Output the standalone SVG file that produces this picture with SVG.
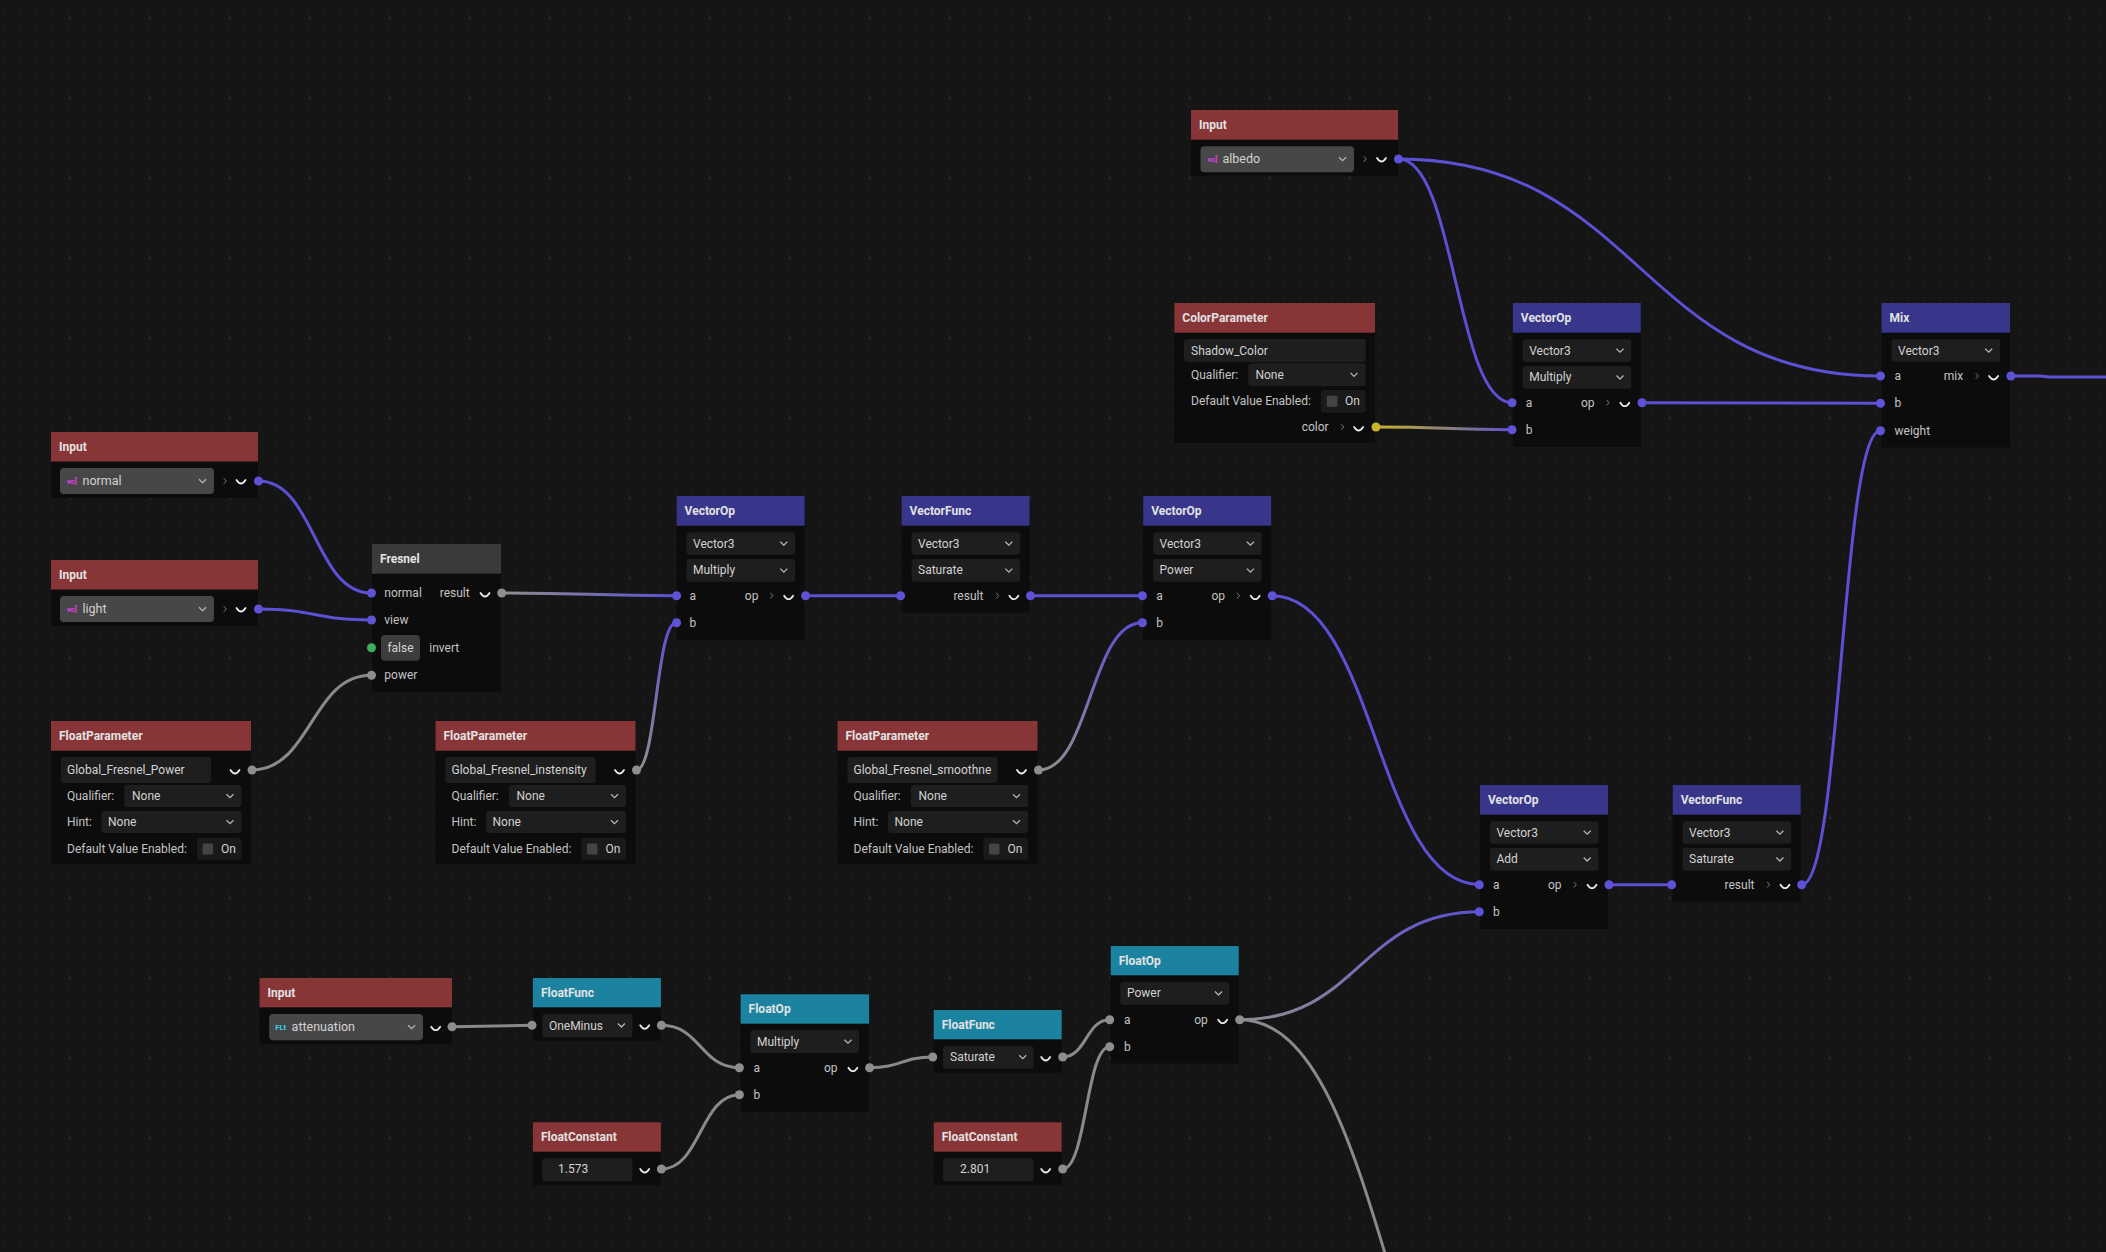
<svg xmlns="http://www.w3.org/2000/svg" xmlns:xlink="http://www.w3.org/1999/xlink" width="2106" height="1252" viewBox="0 0 2106 1252">
<style>
text{font-family:Roboto,"Liberation Sans",sans-serif;font-size:12px;fill:#c4c4c4}
.title{font-weight:700;fill:#e2e2e2}
.dt{fill:#d2d2d2}
.ico{font-size:7.5px;font-weight:700}
.body{fill:#0c0c0c}
.hr{fill:#883537}
.hb{fill:#37368a}
.ht{fill:#1b83a0}
.hg{fill:#3a3a3a}
.dd{fill:#1e1e1e}
.ddi{fill:#474747}
.tg{fill:#1a1a1a}
.ck{fill:#444444}
.pb{fill:#5e53d6}
.pg{fill:#8e8e8e}
.pgr{fill:#3fae5b}
.py{fill:#c9b42c}
.w{fill:none;stroke-width:3;stroke-linecap:round}
.wb{stroke:#5c50d4}
.wg{stroke:#8a8a8a}
</style>
<defs>
<pattern id="dots" patternUnits="userSpaceOnUse" x="-4" y="2" width="16" height="16"><circle cx="8" cy="8" r="1" fill="#1f1f1f"/></pattern>
<pattern id="dots2" patternUnits="userSpaceOnUse" x="30" y="-22" width="80" height="80"><circle cx="40" cy="40" r="1.4" fill="#292929"/></pattern>
<path id="chev" d="M-3.5,-1.8 L0,1.7 L3.5,-1.8" fill="none" stroke="#b5b5b5" stroke-width="1.3"/>
<path id="cup" d="M-4.5,-2 Q0,5 4.5,-2" fill="none" stroke="#e8e8e8" stroke-width="1.8" stroke-linecap="round"/>
<path id="gt" d="M-1.3,-2.8 L1.3,0 L-1.3,2.8" fill="none" stroke="#7a7a7a" stroke-width="1"/>
<linearGradient id="g4" gradientUnits="userSpaceOnUse" x1="501.7" y1="593" x2="676" y2="595.7"><stop offset="0" stop-color="#8e8e8e"/><stop offset="1" stop-color="#5c50d4"/></linearGradient>
<linearGradient id="g5" gradientUnits="userSpaceOnUse" x1="636" y1="770" x2="676" y2="622.7"><stop offset="0" stop-color="#8e8e8e"/><stop offset="1" stop-color="#5c50d4"/></linearGradient>
<linearGradient id="g8" gradientUnits="userSpaceOnUse" x1="1039" y1="770" x2="1142" y2="622.7"><stop offset="0" stop-color="#8e8e8e"/><stop offset="1" stop-color="#5c50d4"/></linearGradient>
<linearGradient id="g10" gradientUnits="userSpaceOnUse" x1="1239.7" y1="1019.7" x2="1480" y2="911.7"><stop offset="0" stop-color="#8e8e8e"/><stop offset="1" stop-color="#5c50d4"/></linearGradient>
<linearGradient id="g16" gradientUnits="userSpaceOnUse" x1="1376" y1="427" x2="1512.5" y2="429.7"><stop offset="0" stop-color="#c9b42c"/><stop offset="0.5" stop-color="#8d8378"/><stop offset="1" stop-color="#5c50d4"/></linearGradient>
</defs>
<rect width="2106" height="1252" fill="#151515"/>
<rect width="2106" height="1252" fill="url(#dots)"/>
<rect width="2106" height="1252" fill="url(#dots2)"/>

<g id="connectors">
<path class="w wb" d="M258.5,481 C314.75,481 314.75,593 371,593"/>
<path class="w wb" d="M258.5,609 C314.75,609 314.75,620 371,620"/>
<path class="w wg" d="M251.5,770 C311.25,770 311.25,675.3 371,675.3"/>
<path class="w" stroke="url(#g4)" d="M501.7,593 C588.8,593 588.8,595.7 676,595.7"/>
<path class="w" stroke="url(#g5)" d="M636.5,770 C656.3,770 656.3,622.7 676,622.7"/>
<path class="w wb" d="M805.6,595.7 L900.4,595.7"/>
<path class="w wb" d="M1030.5,595.7 L1142,595.7"/>
<path class="w" stroke="url(#g8)" d="M1038.5,770 C1090.3,770 1090.3,622.7 1142,622.7"/>
<path class="w wb" d="M1272,595.7 C1376,595.7 1376,884.7 1480,884.7"/>
<path class="w" stroke="url(#g10)" d="M1239.7,1019.7 C1360,1019.7 1360,911.7 1480,911.7"/>
<path class="w wg" d="M1239.7,1019.7 C1390,1019.7 1390,1520 1540,1520"/>
<path class="w wb" d="M1609,884.7 L1671.7,884.7"/>
<path class="w wb" d="M1801.7,884.7 C1841.3,884.7 1841.3,430.7 1880.5,430.7"/>
<path class="w wb" d="M1398.5,159 C1455.5,159 1455.5,402.7 1512,402.7"/>
<path class="w wb" d="M1398.5,159 C1639.5,159 1639.5,376 1880.5,376"/>
<path class="w" stroke="url(#g16)" d="M1376,427 C1444,427 1444,429.7 1512,429.7"/>
<path class="w wb" d="M1642,402.7 L1880.5,403.3"/>
<path class="w wb" d="M2010.9,376 L2040,376 L2050,377 L2110,377"/>
<path class="w wg" d="M452,1026.7 L532,1025.3"/>
<path class="w wg" d="M661.4,1025.3 C700.5,1025.3 700.5,1067.7 739.4,1067.7"/>
<path class="w wg" d="M661.4,1169 C700.5,1169 700.5,1094.7 739.4,1094.7"/>
<path class="w wg" d="M869.6,1067.7 C901.2,1067.7 901.2,1057 932.7,1057"/>
<path class="w wg" d="M1062.7,1057 C1086.2,1057 1086.2,1019.7 1109.7,1019.7"/>
<path class="w wg" d="M1062.7,1169 C1086.2,1169 1086.2,1046.7 1109.7,1046.7"/>
</g>

<g id="input-normal">
<rect class="body" x="51" y="432" width="207" height="66"/>
<rect class="hr" x="51" y="432" width="207" height="29.5"/>
<text class="title" x="59" y="451">Input</text>
<rect class="ddi" x="60" y="468" width="154" height="26" rx="4"/>
<text class="ico" x="67" y="483.5" style="fill:#e23ee6">vc]</text>
<text class="dt" x="82.5" y="485" style="font-size:12.5px">normal</text>
<use href="#chev" x="202.5" y="481"/>
<use href="#gt" x="225" y="481"/>
<use href="#cup" x="241" y="482"/>
<circle class="pb" cx="258.5" cy="481" r="4.5"/>
</g>

<g id="input-light">
<rect class="body" x="51" y="560" width="207" height="66"/>
<rect class="hr" x="51" y="560" width="207" height="29.5"/>
<text class="title" x="59" y="579">Input</text>
<rect class="ddi" x="60" y="596" width="154" height="26" rx="4"/>
<text class="ico" x="67" y="611.5" style="fill:#e23ee6">vc]</text>
<text class="dt" x="82.5" y="613" style="font-size:12.5px">light</text>
<use href="#chev" x="202.5" y="609"/>
<use href="#gt" x="225" y="609"/>
<use href="#cup" x="241" y="610"/>
<circle class="pb" cx="258.5" cy="609" r="4.5"/>
</g>

<g id="fresnel">
<rect class="body" x="372" y="544" width="129" height="147.7"/>
<rect class="hg" x="372" y="544" width="129" height="29.7"/>
<text class="title" x="380" y="563">Fresnel</text>
<circle class="pb" cx="371.5" cy="593" r="4.5"/>
<text x="384.3" y="597">normal</text>
<text x="469.7" y="597" text-anchor="end">result</text>
<use href="#cup" x="485" y="595"/>
<circle class="pg" cx="501.7" cy="593" r="4.5"/>
<circle class="pb" cx="371.5" cy="620" r="4.5"/>
<text x="384.3" y="624">view</text>
<circle class="pgr" cx="371.5" cy="647.7" r="4.5"/>
<rect x="381" y="635" width="39" height="25.7" rx="4" fill="#3d3d3d"/>
<text class="dt" x="400.5" y="651.7" text-anchor="middle">false</text>
<text x="429.3" y="651.7">invert</text>
<circle class="pg" cx="371.5" cy="675.3" r="4.5"/>
<text x="384.3" y="679.3">power</text>
</g>

<g id="floatparam-power">
<rect class="body" x="51" y="721" width="200" height="143"/>
<rect class="hr" x="51" y="721" width="200" height="29.7"/>
<text class="title" x="59" y="740">FloatParameter</text>
<rect class="dd" x="61" y="757" width="150" height="26" rx="3"/>
<text class="dt" x="67" y="774">Global_Fresnel_Power</text>
<use href="#cup" x="235" y="772"/>
<circle class="pg" cx="252" cy="770" r="4.5"/>
<text x="67" y="800">Qualifier:</text>
<rect class="dd" x="124.5" y="785" width="117" height="22" rx="3"/>
<text class="dt" x="132" y="800">None</text>
<use href="#chev" x="230" y="796"/>
<text x="67" y="826">Hint:</text>
<rect class="dd" x="101.5" y="811" width="140" height="22" rx="3"/>
<text class="dt" x="108" y="826">None</text>
<use href="#chev" x="230" y="822"/>
<text x="67" y="853">Default Value Enabled:</text>
<rect class="tg" x="197" y="838" width="44.5" height="22" rx="3"/>
<rect class="ck" x="202.5" y="843.5" width="10.5" height="11" rx="1.5"/>
<text class="dt" x="221" y="853">On</text>
</g>

<g id="floatparam-intensity">
<rect class="body" x="435.5" y="721" width="200" height="143"/>
<rect class="hr" x="435.5" y="721" width="200" height="29.7"/>
<text class="title" x="443.5" y="740">FloatParameter</text>
<rect class="dd" x="445.5" y="757" width="150" height="26" rx="3"/>
<text class="dt" x="451.5" y="774">Global_Fresnel_instensity</text>
<use href="#cup" x="619.5" y="772"/>
<circle class="pg" cx="636.5" cy="770" r="4.5"/>
<text x="451.5" y="800">Qualifier:</text>
<rect class="dd" x="509" y="785" width="117" height="22" rx="3"/>
<text class="dt" x="516.5" y="800">None</text>
<use href="#chev" x="614.5" y="796"/>
<text x="451.5" y="826">Hint:</text>
<rect class="dd" x="486" y="811" width="140" height="22" rx="3"/>
<text class="dt" x="492.5" y="826">None</text>
<use href="#chev" x="614.5" y="822"/>
<text x="451.5" y="853">Default Value Enabled:</text>
<rect class="tg" x="581.5" y="838" width="44.5" height="22" rx="3"/>
<rect class="ck" x="587" y="843.5" width="10.5" height="11" rx="1.5"/>
<text class="dt" x="605.5" y="853">On</text>
</g>

<g id="floatparam-smoothness">
<rect class="body" x="837.5" y="721" width="200" height="143"/>
<rect class="hr" x="837.5" y="721" width="200" height="29.7"/>
<text class="title" x="845.5" y="740">FloatParameter</text>
<rect class="dd" x="847.5" y="757" width="150" height="26" rx="3"/>
<text class="dt" x="853.5" y="774">Global_Fresnel_smoothne</text>
<use href="#cup" x="1021.5" y="772"/>
<circle class="pg" cx="1038.5" cy="770" r="4.5"/>
<text x="853.5" y="800">Qualifier:</text>
<rect class="dd" x="911" y="785" width="117" height="22" rx="3"/>
<text class="dt" x="918.5" y="800">None</text>
<use href="#chev" x="1016.5" y="796"/>
<text x="853.5" y="826">Hint:</text>
<rect class="dd" x="888" y="811" width="140" height="22" rx="3"/>
<text class="dt" x="894.5" y="826">None</text>
<use href="#chev" x="1016.5" y="822"/>
<text x="853.5" y="853">Default Value Enabled:</text>
<rect class="tg" x="983.5" y="838" width="44.5" height="22" rx="3"/>
<rect class="ck" x="989" y="843.5" width="10.5" height="11" rx="1.5"/>
<text class="dt" x="1007.5" y="853">On</text>
</g>

<g id="vectorop-multiply-1">
<rect class="body" x="676.6" y="496" width="128" height="144"/>
<rect class="hb" x="676.6" y="496" width="128" height="29.7"/>
<text class="title" x="684.6" y="515">VectorOp</text>
<rect class="dd" x="686.6" y="532.3" width="108.5" height="22.4" rx="3"/>
<text class="dt" x="693" y="547.5">Vector3</text>
<use href="#chev" x="783.8" y="543.5"/>
<rect class="dd" x="686.6" y="559" width="108.5" height="22.7" rx="3"/>
<text class="dt" x="693" y="574.4">Multiply</text>
<use href="#chev" x="783.8" y="570.4"/>
<circle class="pb" cx="676.6" cy="595.7" r="4.5"/>
<text x="689.6" y="599.7">a</text>
<text x="751.6" y="599.7" text-anchor="middle">op</text>
<use href="#gt" x="771.6" y="595.7"/>
<use href="#cup" x="788.6" y="597.7"/>
<circle class="pb" cx="805.6" cy="595.7" r="4.5"/>
<circle class="pb" cx="676.6" cy="622.7" r="4.5"/>
<text x="689.6" y="626.7">b</text>
</g>

<g id="vectorfunc-saturate-1">
<rect class="body" x="901.6" y="496" width="128" height="116.7"/>
<rect class="hb" x="901.6" y="496" width="128" height="29.7"/>
<text class="title" x="909.6" y="515">VectorFunc</text>
<rect class="dd" x="911.6" y="532.3" width="108.5" height="22.4" rx="3"/>
<text class="dt" x="918" y="547.5">Vector3</text>
<use href="#chev" x="1008.8" y="543.5"/>
<rect class="dd" x="911.6" y="559" width="108.5" height="22.7" rx="3"/>
<text class="dt" x="918" y="574.4">Saturate</text>
<use href="#chev" x="1008.8" y="570.4"/>
<circle class="pb" cx="900.6" cy="595.7" r="4.5"/>
<text x="983.4" y="599.7" text-anchor="end">result</text>
<use href="#gt" x="997.3" y="595.7"/>
<use href="#cup" x="1013.9" y="597.7"/>
<circle class="pb" cx="1030.5" cy="595.7" r="4.5"/>
</g>

<g id="vectorop-power">
<rect class="body" x="1143.2" y="496" width="128" height="144"/>
<rect class="hb" x="1143.2" y="496" width="128" height="29.7"/>
<text class="title" x="1151.2" y="515">VectorOp</text>
<rect class="dd" x="1153.2" y="532.3" width="108.5" height="22.4" rx="3"/>
<text class="dt" x="1159.6" y="547.5">Vector3</text>
<use href="#chev" x="1250.4" y="543.5"/>
<rect class="dd" x="1153.2" y="559" width="108.5" height="22.7" rx="3"/>
<text class="dt" x="1159.6" y="574.4">Power</text>
<use href="#chev" x="1250.4" y="570.4"/>
<circle class="pb" cx="1142.4" cy="595.7" r="4.5"/>
<text x="1156.2" y="599.7">a</text>
<text x="1218.2" y="599.7" text-anchor="middle">op</text>
<use href="#gt" x="1238.2" y="595.7"/>
<use href="#cup" x="1255.2" y="597.7"/>
<circle class="pb" cx="1272.2" cy="595.7" r="4.5"/>
<circle class="pb" cx="1142.4" cy="622.7" r="4.5"/>
<text x="1156.2" y="626.7">b</text>
</g>

<g id="input-albedo">
<rect class="body" x="1191" y="110" width="207" height="66"/>
<rect class="hr" x="1191" y="110" width="207" height="29.7"/>
<text class="title" x="1199" y="129">Input</text>
<rect class="ddi" x="1200.5" y="146.3" width="153.5" height="26" rx="4"/>
<text class="ico" x="1207.5" y="161.5" style="fill:#e23ee6">vc]</text>
<text class="dt" x="1222.5" y="163.3" style="font-size:12.5px">albedo</text>
<use href="#chev" x="1342.5" y="159"/>
<use href="#gt" x="1365" y="159"/>
<use href="#cup" x="1381.5" y="160"/>
<circle class="pb" cx="1398.5" cy="159" r="4.5"/>
</g>

<g id="colorparam-shadow">
<rect class="body" x="1174.3" y="303" width="200.7" height="140"/>
<rect class="hr" x="1174.3" y="303" width="200.7" height="29.7"/>
<text class="title" x="1182.3" y="322">ColorParameter</text>
<rect class="dd" x="1184" y="339" width="181.8" height="23" rx="3"/>
<text class="dt" x="1191" y="354.5">Shadow_Color</text>
<text x="1191" y="378.7">Qualifier:</text>
<rect class="dd" x="1248.3" y="363.3" width="117.4" height="22.7" rx="3"/>
<text class="dt" x="1255.4" y="378.7">None</text>
<use href="#chev" x="1354" y="374.7"/>
<text x="1191" y="405.3">Default Value Enabled:</text>
<rect class="tg" x="1321" y="390" width="44.7" height="22.7" rx="3"/>
<rect class="ck" x="1326.8" y="395.7" width="10.7" height="11" rx="1.5"/>
<text class="dt" x="1345" y="405.3">On</text>
<text x="1328.6" y="431" text-anchor="end">color</text>
<use href="#gt" x="1342.5" y="427"/>
<use href="#cup" x="1358.6" y="429"/>
<circle class="py" cx="1376" cy="427" r="4.5"/>
</g>

<g id="vectorop-multiply-2">
<rect class="body" x="1512.8" y="303" width="128" height="144"/>
<rect class="hb" x="1512.8" y="303" width="128" height="29.7"/>
<text class="title" x="1520.8" y="322">VectorOp</text>
<rect class="dd" x="1522.8" y="339.3" width="108.5" height="22.4" rx="3"/>
<text class="dt" x="1529.2" y="354.5">Vector3</text>
<use href="#chev" x="1620" y="350.5"/>
<rect class="dd" x="1522.8" y="366" width="108.5" height="22.7" rx="3"/>
<text class="dt" x="1529.2" y="381.3">Multiply</text>
<use href="#chev" x="1620" y="377.3"/>
<circle class="pb" cx="1512" cy="402.7" r="4.5"/>
<text x="1525.8" y="406.7">a</text>
<text x="1587.8" y="406.7" text-anchor="middle">op</text>
<use href="#gt" x="1607.8" y="402.7"/>
<use href="#cup" x="1624.8" y="404.7"/>
<circle class="pb" cx="1642" cy="402.7" r="4.5"/>
<circle class="pb" cx="1512" cy="429.7" r="4.5"/>
<text x="1525.8" y="433.7">b</text>
</g>

<g id="mix">
<rect class="body" x="1881.5" y="303" width="128.5" height="144.3"/>
<rect class="hb" x="1881.5" y="303" width="128.5" height="29.7"/>
<text class="title" x="1889.5" y="322">Mix</text>
<rect class="dd" x="1891.5" y="339.3" width="108.7" height="22.4" rx="3"/>
<text class="dt" x="1898" y="354.5">Vector3</text>
<use href="#chev" x="1988.7" y="350.5"/>
<circle class="pb" cx="1880.5" cy="376" r="4.5"/>
<text x="1894.5" y="380">a</text>
<text x="1953.5" y="380" text-anchor="middle">mix</text>
<use href="#gt" x="1977" y="376"/>
<use href="#cup" x="1993.6" y="378"/>
<circle class="pb" cx="2010.9" cy="376" r="4.5"/>
<circle class="pb" cx="1880.5" cy="403.3" r="4.5"/>
<text x="1894.5" y="407.3">b</text>
<circle class="pb" cx="1880.5" cy="430.7" r="4.5"/>
<text x="1894.5" y="434.7">weight</text>
</g>

<g id="vectorop-add">
<rect class="body" x="1480" y="785" width="128" height="144"/>
<rect class="hb" x="1480" y="785" width="128" height="29.7"/>
<text class="title" x="1488" y="804">VectorOp</text>
<rect class="dd" x="1490" y="821.3" width="108.5" height="22.4" rx="3"/>
<text class="dt" x="1496.4" y="836.5">Vector3</text>
<use href="#chev" x="1587.2" y="832.5"/>
<rect class="dd" x="1490" y="848" width="108.5" height="22.7" rx="3"/>
<text class="dt" x="1496.4" y="863.3">Add</text>
<use href="#chev" x="1587.2" y="859.3"/>
<circle class="pb" cx="1479.3" cy="884.7" r="4.5"/>
<text x="1493" y="888.7">a</text>
<text x="1554.7" y="888.7" text-anchor="middle">op</text>
<use href="#gt" x="1575" y="884.7"/>
<use href="#cup" x="1592" y="886.7"/>
<circle class="pb" cx="1609" cy="884.7" r="4.5"/>
<circle class="pb" cx="1479.3" cy="911.7" r="4.5"/>
<text x="1493" y="915.7">b</text>
</g>

<g id="vectorfunc-saturate-2">
<rect class="body" x="1672.7" y="785" width="128" height="116.7"/>
<rect class="hb" x="1672.7" y="785" width="128" height="29.7"/>
<text class="title" x="1680.7" y="804">VectorFunc</text>
<rect class="dd" x="1682.7" y="821.3" width="108.5" height="22.4" rx="3"/>
<text class="dt" x="1689" y="836.5">Vector3</text>
<use href="#chev" x="1779.9" y="832.5"/>
<rect class="dd" x="1682.7" y="848" width="108.5" height="22.7" rx="3"/>
<text class="dt" x="1689" y="863.3">Saturate</text>
<use href="#chev" x="1779.9" y="859.3"/>
<circle class="pb" cx="1671.7" cy="884.7" r="4.5"/>
<text x="1754.5" y="888.7" text-anchor="end">result</text>
<use href="#gt" x="1768.4" y="884.7"/>
<use href="#cup" x="1785" y="886.7"/>
<circle class="pb" cx="1801.7" cy="884.7" r="4.5"/>
</g>

<g id="input-attenuation">
<rect class="body" x="259.5" y="978" width="192.5" height="66.3"/>
<rect class="hr" x="259.5" y="978" width="192.5" height="29.3"/>
<text class="title" x="267.5" y="997">Input</text>
<rect class="ddi" x="269.2" y="1014" width="153.8" height="26.3" rx="4"/>
<text class="ico" x="275.3" y="1029.5" style="fill:#35d8e8">FLt</text>
<text class="dt" x="291.6" y="1031" style="font-size:12.5px">attenuation</text>
<use href="#chev" x="411.6" y="1027"/>
<use href="#cup" x="435.7" y="1028.7"/>
<circle class="pg" cx="452" cy="1026.7" r="4.5"/>
</g>

<g id="floatfunc-oneminus">
<rect class="body" x="532.9" y="978" width="128" height="62.7"/>
<rect class="ht" x="532.9" y="978" width="128" height="29.3"/>
<text class="title" x="540.9" y="997">FloatFunc</text>
<rect class="dd" x="542.2" y="1014" width="90.2" height="23.3" rx="3"/>
<text class="dt" x="548.9" y="1029.5">OneMinus</text>
<use href="#chev" x="621.4" y="1025.3"/>
<circle class="pg" cx="532" cy="1025.3" r="4.5"/>
<use href="#cup" x="644.7" y="1027.3"/>
<circle class="pg" cx="661.4" cy="1025.3" r="4.5"/>
</g>

<g id="floatconstant-1573">
<rect class="body" x="532.9" y="1122.3" width="128" height="63"/>
<rect class="hr" x="532.9" y="1122.3" width="128" height="29.4"/>
<text class="title" x="540.9" y="1141.3">FloatConstant</text>
<rect class="dd" x="542.2" y="1158.3" width="90.2" height="23" rx="3"/>
<text class="dt" x="558" y="1173.3">1.573</text>
<use href="#cup" x="644.7" y="1171"/>
<circle class="pg" cx="661.4" cy="1169" r="4.5"/>
</g>

<g id="floatop-multiply">
<rect class="body" x="740.6" y="994.3" width="128.5" height="117.4"/>
<rect class="ht" x="740.6" y="994.3" width="128.5" height="29.4"/>
<text class="title" x="748.6" y="1013.3">FloatOp</text>
<rect class="dd" x="750.4" y="1030" width="108.6" height="23" rx="3"/>
<text class="dt" x="757" y="1045.5">Multiply</text>
<use href="#chev" x="848" y="1041.5"/>
<circle class="pg" cx="739.4" cy="1067.7" r="4.5"/>
<text x="753.6" y="1071.7">a</text>
<text x="830.8" y="1071.7" text-anchor="middle">op</text>
<use href="#cup" x="852.9" y="1069.7"/>
<circle class="pg" cx="869.6" cy="1067.7" r="4.5"/>
<circle class="pg" cx="739.4" cy="1094.7" r="4.5"/>
<text x="753.6" y="1098.7">b</text>
</g>

<g id="floatfunc-saturate">
<rect class="body" x="933.7" y="1010" width="128" height="62.7"/>
<rect class="ht" x="933.7" y="1010" width="128" height="29.3"/>
<text class="title" x="941.7" y="1029">FloatFunc</text>
<rect class="dd" x="943" y="1046" width="90.7" height="22.7" rx="3"/>
<text class="dt" x="950" y="1061.3">Saturate</text>
<use href="#chev" x="1022.7" y="1057"/>
<circle class="pg" cx="932.7" cy="1057" r="4.5"/>
<use href="#cup" x="1045.7" y="1059"/>
<circle class="pg" cx="1062.7" cy="1057" r="4.5"/>
</g>

<g id="floatconstant-2801">
<rect class="body" x="933.7" y="1122.3" width="128" height="63"/>
<rect class="hr" x="933.7" y="1122.3" width="128" height="29.4"/>
<text class="title" x="941.7" y="1141.3">FloatConstant</text>
<rect class="dd" x="943" y="1158.3" width="90.7" height="23" rx="3"/>
<text class="dt" x="960" y="1173.3">2.801</text>
<use href="#cup" x="1045.7" y="1171"/>
<circle class="pg" cx="1062.7" cy="1169" r="4.5"/>
</g>

<g id="floatop-power">
<rect class="body" x="1110.7" y="946" width="128" height="117.3"/>
<rect class="ht" x="1110.7" y="946" width="128" height="29.3"/>
<text class="title" x="1118.7" y="965">FloatOp</text>
<rect class="dd" x="1120.3" y="982" width="109" height="22.7" rx="3"/>
<text class="dt" x="1127" y="997.3">Power</text>
<use href="#chev" x="1218.5" y="993.3"/>
<circle class="pg" cx="1109.7" cy="1019.7" r="4.5"/>
<text x="1124" y="1023.7">a</text>
<text x="1201" y="1023.7" text-anchor="middle">op</text>
<use href="#cup" x="1222.7" y="1021.7"/>
<circle class="pg" cx="1239.7" cy="1019.7" r="4.5"/>
<circle class="pg" cx="1109.7" cy="1046.7" r="4.5"/>
<text x="1124" y="1050.7">b</text>
</g>
</svg>
